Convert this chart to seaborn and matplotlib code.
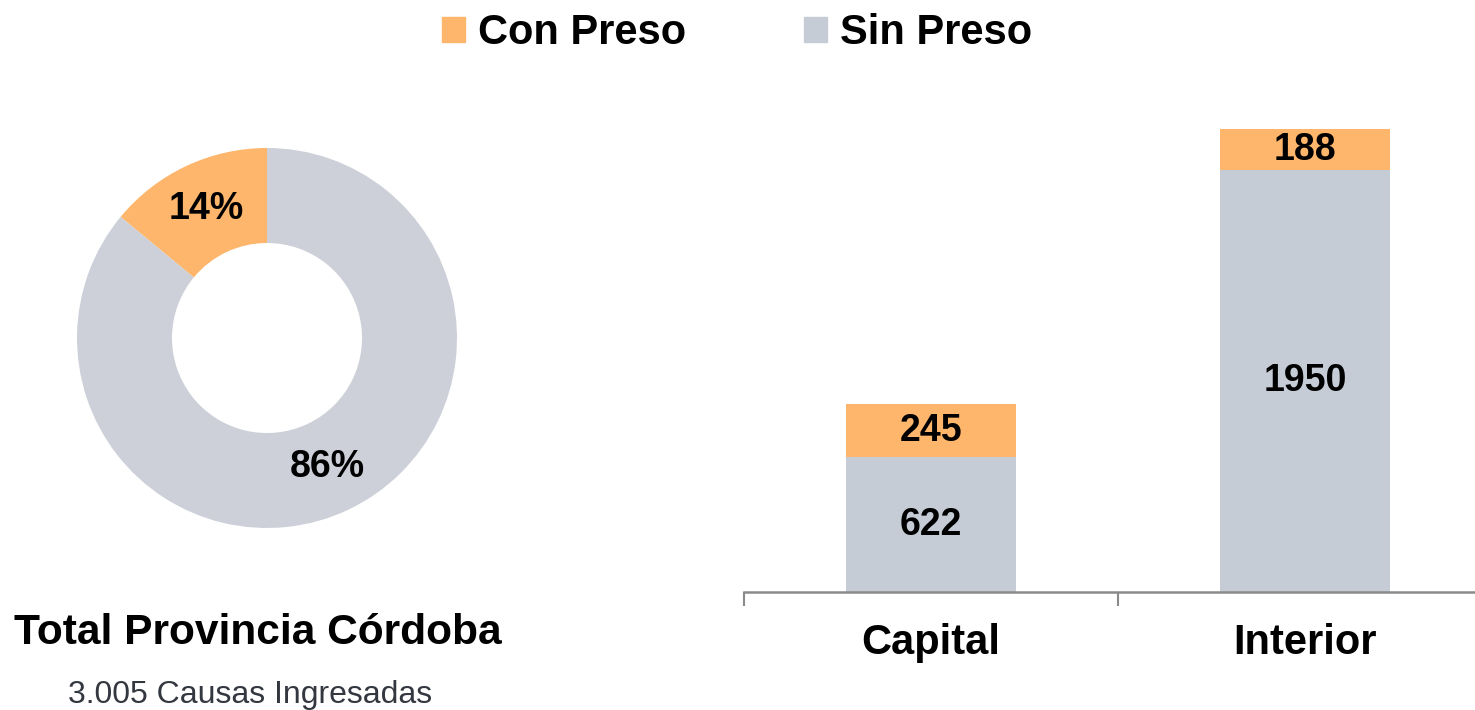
import matplotlib
matplotlib.use("Agg")
import matplotlib.pyplot as plt
from matplotlib.patches import Patch
import seaborn as sns
import pandas as pd

sns.set_style("white")
plt.rcParams['font.family'] = ['Liberation Sans', 'DejaVu Sans']
plt.rcParams['text.color'] = 'black'
plt.rcParams['xtick.color'] = 'black'

# data
series = ["Con Preso", "Sin Preso"]
donut_share = [14, 86]
regions = ["Capital", "Interior"]
con_preso = [245, 188]
sin_preso = [622, 1950]
title = "Total Provincia Córdoba"
subtitle = "3.005 Causas Ingresadas"

orange = "#FDB66B"
gray_bar = "#C5CCD6"
gray_pie = "#CDD0D8"

fig = plt.figure(figsize=(14.75, 7.1), dpi=100)

# donut
ax_pie = fig.add_axes([77 / 1475, 182 / 710, 380 / 1475, 380 / 710])
wedges, texts, autotexts = ax_pie.pie(
    donut_share, colors=[orange, gray_pie], startangle=90, counterclock=True,
    autopct=lambda p: f"{p:.0f}%", pctdistance=0.75,
    wedgeprops=dict(width=0.5, linewidth=0),
    textprops=dict(fontsize=27, fontweight="bold", color="black"))
ax_pie.set_xlim(-1, 1)
ax_pie.set_ylim(-1, 1)
ax_pie.set_aspect("equal")

fig.text(258 / 1475, 1 - 633 / 710, title, ha="center", va="center",
         fontsize=30.6, fontweight="bold", color="black")
fig.text(250 / 1475, 1 - 695 / 710, subtitle, ha="center", va="center",
         fontsize=23, color="#333740")

# stacked bars
df = pd.DataFrame({"region": regions, "con": con_preso, "sin": sin_preso})
df["total"] = df["con"] + df["sin"]

ax = fig.add_axes([744 / 1475, 118 / 710, 748 / 1475, 476 / 710])
sns.barplot(data=df, x="region", y="total", color=orange, width=0.457,
            saturation=1, linewidth=0, ax=ax)
sns.barplot(data=df, x="region", y="sin", color=gray_bar, width=0.457,
            saturation=1, linewidth=0, ax=ax)

con_bars = ax.containers[0]
sin_bars = ax.containers[1]
ax.bar_label(sin_bars, labels=[str(v) for v in sin_preso], label_type="center",
             fontsize=27, fontweight="bold", color="black")
# center the Con Preso label inside its own segment
for rect, c, s in zip(con_bars, con_preso, sin_preso):
    ax.text(rect.get_x() + rect.get_width() / 2, s + c / 2, str(c),
            ha="center", va="center", fontsize=27, fontweight="bold", color="black")

ax.set_xlim(-0.5, 1.5)
ax.set_ylim(0, 2200)
ax.set_xlabel("")
ax.set_ylabel("")
ax.set_yticks([])
for side in ["top", "right", "left"]:
    ax.spines[side].set_visible(False)
ax.spines["bottom"].set_color("#8A8A8A")
ax.spines["bottom"].set_linewidth(1.8)
ax.set_xticks([0.5, 1.5, -0.5], minor=True)
ax.tick_params(axis="x", which="minor", length=10, width=1.5, color="#8A8A8A",
               direction="out", bottom=True)
ax.tick_params(axis="x", which="major", length=0, pad=22, labelsize=30,
               labelcolor="black")
for lbl in ax.get_xticklabels():
    lbl.set_fontweight("bold")

handles = [Patch(color=orange), Patch(color=gray_bar)]
leg = fig.legend(handles, series, loc="center", bbox_to_anchor=(737 / 1475, 1 - 33 / 710),
                 ncol=2, frameon=False, handlelength=0.55, handleheight=0.55,
                 handletextpad=0.3, columnspacing=2.85, prop=dict(weight="bold", size=30))
for t in leg.get_texts():
    t.set_color("black")

fig.savefig("out.png", dpi=100)
